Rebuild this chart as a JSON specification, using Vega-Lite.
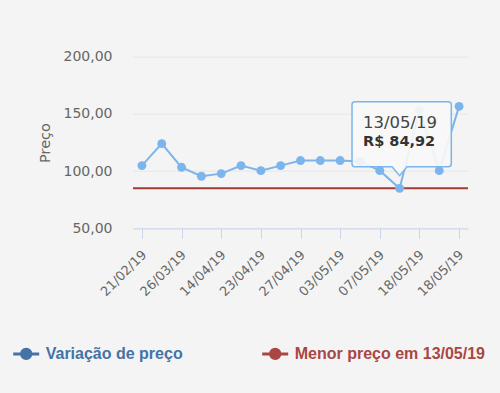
{
  "$schema": "https://vega.github.io/schema/vega-lite/v6.json",
  "width": 335,
  "height": 171.6,
  "autosize": "none",
  "padding": {"left": 133, "top": 56.7, "right": 32, "bottom": 164.7},
  "background": "#f4f4f4",
  "config": {
    "locale": {"number": {"decimal": ",", "thousands": ".", "grouping": [3], "currency": ["R$ ", ""]}},
    "view": {"stroke": null},
    "font": "DejaVu Sans"
  },
  "data": {
    "values": [
      {"n": 1, "key": "21/02/19 (1)", "date": "21/02/19", "price": 104.8},
      {"n": 2, "key": "10/03/19 (2)", "date": "10/03/19", "price": 124.0},
      {"n": 3, "key": "26/03/19 (3)", "date": "26/03/19", "price": 103.3},
      {"n": 4, "key": "05/04/19 (4)", "date": "05/04/19", "price": 95.5},
      {"n": 5, "key": "14/04/19 (5)", "date": "14/04/19", "price": 97.8},
      {"n": 6, "key": "19/04/19 (6)", "date": "19/04/19", "price": 104.8},
      {"n": 7, "key": "23/04/19 (7)", "date": "23/04/19", "price": 100.4},
      {"n": 8, "key": "25/04/19 (8)", "date": "25/04/19", "price": 104.8},
      {"n": 9, "key": "27/04/19 (9)", "date": "27/04/19", "price": 109.2},
      {"n": 10, "key": "30/04/19 (10)", "date": "30/04/19", "price": 109.2},
      {"n": 11, "key": "03/05/19 (11)", "date": "03/05/19", "price": 109.2},
      {"n": 12, "key": "05/05/19 (12)", "date": "05/05/19", "price": 108.5},
      {"n": 13, "key": "07/05/19 (13)", "date": "07/05/19", "price": 100.4},
      {"n": 14, "key": "13/05/19 (14)", "date": "13/05/19", "price": 84.92},
      {"n": 15, "key": "18/05/19 (15)", "date": "18/05/19", "price": 153.0},
      {"n": 16, "key": "18/05/19 (16)", "date": "18/05/19", "price": 100.4},
      {"n": 17, "key": "18/05/19 (17)", "date": "18/05/19", "price": 156.6}
    ]
  },
  "encoding": {
    "x": {
      "field": "key",
      "type": "ordinal",
      "sort": null,
      "scale": {"type": "point", "padding": 0.45},
      "axis": {
        "title": null,
        "values": ["21/02/19 (1)", "26/03/19 (3)", "14/04/19 (5)", "23/04/19 (7)", "27/04/19 (9)", "03/05/19 (11)", "07/05/19 (13)", "18/05/19 (15)", "18/05/19 (17)"],
        "labelExpr": "slice(datum.value, 0, 8)",
        "labelAngle": -45,
        "labelAlign": "right",
        "labelBaseline": "middle",
        "labelFontSize": 13,
        "labelColor": "#666666",
        "labelPadding": 14,
        "labelOffset": 2,
        "tickSize": 10,
        "tickColor": "#ccd6eb",
        "domainColor": "#ccd6eb",
        "grid": false
      }
    },
    "y": {
      "field": "price",
      "type": "quantitative",
      "scale": {"domain": [50, 200], "nice": false, "zero": false},
      "axis": {
        "title": "Preço",
        "titleColor": "#666666",
        "titleFontSize": 14.5,
        "titleFontWeight": "normal",
        "titlePadding": 11,
        "values": [50, 100, 150, 200],
        "format": ".2f",
        "labelFontSize": 14,
        "labelColor": "#666666",
        "labelPadding": 21,
        "domain": false,
        "ticks": false,
        "gridColor": "#e6e6e6"
      }
    }
  },
  "layer": [
    {
      "mark": {"type": "rule", "strokeWidth": 2, "stroke": "#a23a36"},
      "encoding": {
        "x": null,
        "y": {"aggregate": "min", "field": "price", "type": "quantitative"},
        "color": {"datum": "Menor preço em 13/05/19"}
      }
    },
    {
      "mark": {"type": "line", "strokeWidth": 2, "stroke": "#7cb5ec", "point": {"filled": true, "size": 80, "opacity": 1, "fill": "#7cb5ec"}},
      "encoding": {
        "color": {
          "datum": "Variação de preço",
          "scale": {"domain": ["Variação de preço", "Menor preço em 13/05/19"], "range": ["#4572A7", "#AA4643"]},
          "legend": {
            "title": null,
            "orient": "none",
            "direction": "horizontal",
            "legendX": -121.3,
            "legendY": 282.3,
            "columnPadding": 73,
            "labelOffset": 5,
            "labelLimit": 400,
            "labelFont": "Liberation Sans",
            "labelFontSize": 16,
            "labelFontWeight": "bold",
            "symbolType": "M-1,0L1,0M-0.36,0A0.36,0.36,0,1,0,0.36,0A0.36,0.36,0,1,0,-0.36,0Z",
            "symbolSize": 676,
            "symbolStrokeWidth": 3,
            "encode": {
              "labels": {"update": {"fill": {"signal": "datum.value === 'Variação de preço' ? '#4572A7' : '#AA4643'"}}},
              "symbols": {"update": {
                "fill": {"signal": "datum.value === 'Variação de preço' ? '#4572A7' : '#AA4643'"},
                "stroke": {"signal": "datum.value === 'Variação de preço' ? '#4572A7' : '#AA4643'"},
                "opacity": {"value": 1},
                "fillOpacity": {"value": 1}
              }}
            }
          }
        }
      }
    },
    {
      "transform": [
        {"joinaggregate": [{"op": "min", "field": "price", "as": "minp"}]},
        {"filter": "datum.price === datum.minp"}
      ],
      "layer": [
        {
          "mark": {
            "type": "point",
            "shape": "M-0.892,-1.73L0.974,-1.73Q1.034,-1.73,1.034,-1.67L1.034,-0.49Q1.034,-0.43,0.974,-0.43L0.148,-0.43L0,-0.254L-0.152,-0.43L-0.892,-0.43Q-0.952,-0.43,-0.952,-0.49L-0.952,-1.67Q-0.952,-1.73,-0.892,-1.73Z",
            "size": 10000,
            "filled": true,
            "fill": "#f7f7f7",
            "fillOpacity": 0.92,
            "stroke": "#7cb5ec",
            "strokeWidth": 1.5,
            "opacity": 1
          }
        },
        {
          "mark": {"type": "text", "align": "left", "baseline": "alphabetic", "dx": -36.6, "dy": -60.5, "fontSize": 16.5, "color": "#444444"},
          "encoding": {"text": {"field": "date"}}
        },
        {
          "mark": {"type": "text", "align": "left", "baseline": "alphabetic", "dx": -36.6, "dy": -42, "fontSize": 14.5, "fontWeight": "bold", "color": "#333333"},
          "encoding": {"text": {"field": "price", "type": "quantitative", "format": "$.2f"}}
        }
      ]
    }
  ]
}
